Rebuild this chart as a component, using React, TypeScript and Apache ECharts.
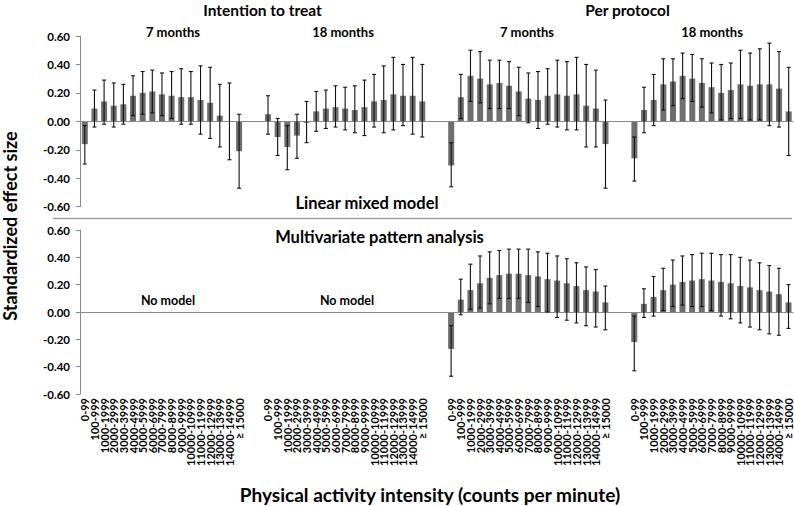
import React, { useEffect, useRef } from "react";
import * as echarts from "echarts";

// ---- Data ----
const intensityBins = [
  "0-99", "100-999", "1000-1999", "2000-2999", "3000-3999", "4000-4999",
  "5000-5999", "6000-6999", "7000-7999", "8000-8999", "9000-9999",
  "10000-10999", "11000-11999", "12000-12999", "13000-13999", "14000-14999", "≥ 15000",
];
const yTicks = [-0.6, -0.4, -0.2, 0, 0.2, 0.4, 0.6];

// Linear mixed model – Intention to treat, 7 months
const lmmItt7 = [-0.16, 0.09, 0.14, 0.11, 0.12, 0.18, 0.2, 0.21, 0.19, 0.18, 0.17, 0.17, 0.15, 0.13, 0.04, 0.0, -0.21];
const lmmItt7Low = [-0.3, -0.04, -0.02, -0.04, -0.02, 0.04, 0.05, 0.06, 0.04, 0.02, -0.02, -0.02, -0.09, -0.12, -0.18, -0.27, -0.47];
const lmmItt7High = [-0.03, 0.22, 0.29, 0.27, 0.26, 0.32, 0.35, 0.36, 0.34, 0.35, 0.37, 0.35, 0.39, 0.38, 0.26, 0.27, 0.05];
// Linear mixed model – Intention to treat, 18 months
const lmmItt18 = [0.05, -0.11, -0.18, -0.1, -0.01, 0.07, 0.09, 0.1, 0.09, 0.08, 0.1, 0.14, 0.15, 0.19, 0.18, 0.18, 0.14];
const lmmItt18Low = [-0.09, -0.24, -0.34, -0.26, -0.15, -0.07, -0.05, -0.04, -0.06, -0.08, -0.1, -0.04, -0.08, -0.06, -0.03, -0.09, -0.11];
const lmmItt18High = [0.18, 0.02, -0.03, 0.05, 0.14, 0.21, 0.22, 0.25, 0.24, 0.25, 0.29, 0.33, 0.39, 0.45, 0.4, 0.45, 0.4];
// Linear mixed model – Per protocol, 7 months
const lmmPp7 = [-0.31, 0.17, 0.32, 0.3, 0.26, 0.27, 0.25, 0.21, 0.16, 0.15, 0.18, 0.19, 0.18, 0.19, 0.11, 0.09, -0.16];
const lmmPp7Low = [-0.46, 0.02, 0.14, 0.13, 0.09, 0.09, 0.09, 0.04, -0.01, -0.05, -0.02, -0.04, -0.06, -0.06, -0.18, -0.18, -0.47];
const lmmPp7High = [-0.15, 0.33, 0.5, 0.49, 0.43, 0.43, 0.42, 0.38, 0.34, 0.35, 0.37, 0.43, 0.42, 0.45, 0.4, 0.36, 0.15];
// Linear mixed model – Per protocol, 18 months
const lmmPp18 = [-0.26, 0.08, 0.15, 0.26, 0.28, 0.32, 0.3, 0.27, 0.24, 0.2, 0.22, 0.26, 0.25, 0.26, 0.26, 0.23, 0.07];
const lmmPp18Low = [-0.42, -0.08, -0.03, 0.08, 0.11, 0.16, 0.14, 0.1, 0.06, 0.01, 0.02, 0.02, 0.01, 0.01, -0.03, -0.04, -0.24];
const lmmPp18High = [-0.11, 0.24, 0.33, 0.44, 0.44, 0.48, 0.47, 0.44, 0.41, 0.4, 0.41, 0.5, 0.48, 0.51, 0.55, 0.49, 0.38];
// Multivariate pattern analysis – Per protocol, 7 months
const mpaPp7 = [-0.27, 0.09, 0.16, 0.21, 0.25, 0.27, 0.28, 0.28, 0.27, 0.26, 0.24, 0.23, 0.21, 0.19, 0.16, 0.15, 0.07];
const mpaPp7Low = [-0.47, -0.02, 0.02, 0.03, 0.06, 0.1, 0.1, 0.1, 0.07, 0.04, 0.0, -0.04, -0.06, -0.08, -0.1, -0.11, -0.13];
const mpaPp7High = [-0.1, 0.24, 0.35, 0.41, 0.44, 0.45, 0.46, 0.46, 0.46, 0.44, 0.43, 0.41, 0.39, 0.36, 0.33, 0.31, 0.19];
// Multivariate pattern analysis – Per protocol, 18 months
const mpaPp18 = [-0.22, 0.06, 0.11, 0.16, 0.2, 0.22, 0.23, 0.24, 0.23, 0.22, 0.21, 0.19, 0.18, 0.16, 0.15, 0.13, 0.07];
const mpaPp18Low = [-0.43, -0.04, -0.03, 0.01, 0.04, 0.05, 0.04, 0.04, 0.01, -0.03, -0.05, -0.08, -0.11, -0.13, -0.16, -0.17, -0.12];
const mpaPp18High = [-0.03, 0.17, 0.26, 0.32, 0.38, 0.41, 0.42, 0.43, 0.43, 0.42, 0.42, 0.4, 0.38, 0.36, 0.34, 0.32, 0.2];

const GAP = 2;
const FONT = "Lato, 'Open Sans', 'DejaVu Sans', sans-serif";

function buildAxis(): string[] {
  const out: string[] = [];
  for (let g = 0; g < 4; g++) {
    if (g > 0) for (let k = 0; k < GAP; k++) out.push("");
    out.push(...intensityBins);
  }
  return out;
}

function joinGroups(groups: (number[] | null)[]): (number | null)[] {
  const out: (number | null)[] = [];
  groups.forEach((g, gi) => {
    if (gi > 0) for (let k = 0; k < GAP; k++) out.push(null);
    for (let i = 0; i < intensityBins.length; i++) out.push(g ? g[i] : null);
  });
  return out;
}

function errorData(lows: (number[] | null)[], highs: (number[] | null)[]) {
  const lo = joinGroups(lows);
  const hi = joinGroups(highs);
  const out: number[][] = [];
  lo.forEach((l, i) => {
    const h = hi[i];
    if (l !== null && h !== null) out.push([i, l, h]);
  });
  return out;
}

function renderErr(params: any, api: any) {
  const x = api.value(0);
  const a = api.coord([x, api.value(1)]);
  const b = api.coord([x, api.value(2)]);
  const hw = 2;
  const style = { stroke: "#111", lineWidth: 1.1 };
  return {
    type: "group",
    children: [
      { type: "line", shape: { x1: a[0], y1: a[1], x2: b[0], y2: b[1] }, style },
      { type: "line", shape: { x1: a[0] - hw, y1: a[1], x2: a[0] + hw, y2: a[1] }, style },
      { type: "line", shape: { x1: b[0] - hw, y1: b[1], x2: b[0] + hw, y2: b[1] }, style },
    ],
  };
}

export default function App() {
  const ref = useRef<HTMLDivElement>(null);
  useEffect(() => {
    if (!ref.current) return;
    const chart = echarts.init(ref.current, undefined, { renderer: "svg" });
    const cats = buildAxis();
    const gridLeft = 80;
    const gridWidth = 713.5;
    const yAxisCommon = (gridIndex: number) => ({
      type: "value",
      gridIndex,
      min: yTicks[0],
      max: yTicks[yTicks.length - 1],
      interval: 0.2,
      splitLine: { show: false },
      axisLine: { show: true, lineStyle: { color: "#8a8a8a", width: 1 } },
      axisTick: { show: true, length: 4, lineStyle: { color: "#8a8a8a" } },
      axisLabel: {
        margin: 10,
        fontFamily: FONT,
        fontWeight: "bold",
        fontSize: 11.5,
        color: "#000",
        formatter: (v: number) => v.toFixed(2),
      },
    });
    const zeroLine = {
      silent: true,
      symbol: ["none", "none"],
      label: { show: false },
      lineStyle: { color: "#8a8a8a", width: 1, type: "solid" },
      data: [{ yAxis: 0 }],
    };
    const barStyle = { color: "#6e6e6e" };

    const titleText = (text: string, x: number, y: number, size: number) => ({
      type: "text",
      x,
      y,
      style: {
        text,
        fontFamily: FONT,
        fontWeight: "bold",
        fontSize: size,
        fill: "#000",
        textAlign: "center",
        textVerticalAlign: "middle",
      },
    });

    chart.setOption({
      animation: false,
      backgroundColor: "#fff",
      grid: [
        { left: gridLeft, top: 36, width: gridWidth, height: 170.7 },
        { left: gridLeft, top: 230, width: gridWidth, height: 164 },
      ],
      xAxis: [
        {
          type: "category",
          gridIndex: 0,
          data: cats,
          axisLine: { show: false, onZero: false },
          axisTick: { show: false },
          axisLabel: { show: false },
        },
        {
          type: "category",
          gridIndex: 1,
          data: cats,
          axisLine: { show: false, onZero: false },
          axisTick: { show: false },
          axisLabel: {
            show: true,
            interval: 0,
            rotate: 90,
            margin: 4,
            fontFamily: FONT,
            fontWeight: "bold",
            fontSize: 11,
            color: "#000",
          },
        },
      ],
      yAxis: [yAxisCommon(0), yAxisCommon(1)],
      series: [
        {
          type: "bar",
          xAxisIndex: 0,
          yAxisIndex: 0,
          barWidth: 6,
          itemStyle: barStyle,
          data: joinGroups([lmmItt7, lmmItt18, lmmPp7, lmmPp18]),
          markLine: zeroLine,
        },
        {
          type: "custom",
          xAxisIndex: 0,
          yAxisIndex: 0,
          z: 5,
          renderItem: renderErr,
          encode: { x: 0, y: [1, 2] },
          data: errorData(
            [lmmItt7Low, lmmItt18Low, lmmPp7Low, lmmPp18Low],
            [lmmItt7High, lmmItt18High, lmmPp7High, lmmPp18High]
          ),
        },
        {
          type: "bar",
          xAxisIndex: 1,
          yAxisIndex: 1,
          barWidth: 6,
          itemStyle: barStyle,
          data: joinGroups([null, null, mpaPp7, mpaPp18]),
          markLine: zeroLine,
        },
        {
          type: "custom",
          xAxisIndex: 1,
          yAxisIndex: 1,
          z: 5,
          renderItem: renderErr,
          encode: { x: 0, y: [1, 2] },
          data: errorData([null, null, mpaPp7Low, mpaPp18Low], [null, null, mpaPp7High, mpaPp18High]),
        },
      ],
      graphic: [
        titleText("Intention to treat", 262.5, 10, 15.5),
        titleText("Per protocol", 627.5, 10, 15.5),
        titleText("7 months", 173, 32, 13),
        titleText("18 months", 343, 32, 13),
        titleText("7 months", 527, 32, 13),
        titleText("18 months", 712, 32, 13),
        titleText("Linear mixed model", 367, 203, 16.5),
        titleText("Multivariate pattern analysis", 379.5, 237, 16.5),
        titleText("No model", 168, 300, 12.5),
        titleText("No model", 347, 300, 12.5),
        titleText("Physical activity intensity (counts per minute)", 430, 494, 19),
        {
          type: "text",
          x: 9.5,
          y: 226,
          rotation: Math.PI / 2,
          style: {
            text: "Standardized effect size",
            fontFamily: FONT,
            fontWeight: "bold",
            fontSize: 18,
            fill: "#000",
            textAlign: "center",
            textVerticalAlign: "middle",
          },
        },
        {
          type: "line",
          shape: { x1: 53, y1: 218.5, x2: 792, y2: 218.5 },
          style: { stroke: "#a0a0a0", lineWidth: 1.5 },
        },
      ],
    });
    return () => chart.dispose();
  }, []);
  return (
    <div
      ref={ref}
      style={{ position: "fixed", left: 0, top: 0, width: 794, height: 506, background: "#fff" }}
    />
  );
}
